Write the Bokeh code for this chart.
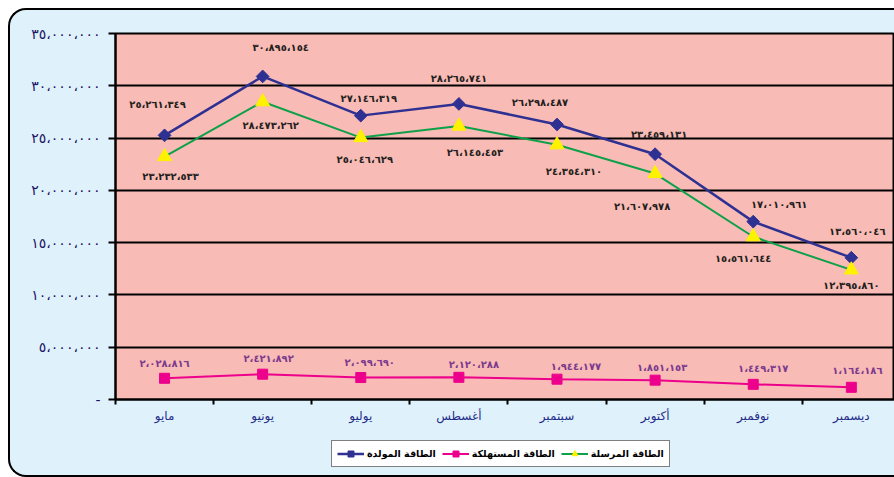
from bokeh.plotting import figure
from bokeh.layouts import column
from bokeh.models import (ColumnDataSource, Range1d, FixedTicker, Legend, LegendItem)
from bokeh.core.properties import value
from bokeh.embed import file_html
from bokeh.resources import INLINE
import math

# ---------------- data ----------------
months = ["مايو", "يونيو", "يوليو", "أغسطس", "سبتمبر", "أكتوبر", "نوفمبر", "ديسمبر"]
generated = [25261349, 30895154, 27146319, 28265741, 26298487, 23459131, 17010961, 13560046]
consumed = [2028816, 2421892, 2099690, 2120288, 1944177, 1851153, 1449317, 1164186]
sent = [23232533, 28473262, 25046629, 26145453, 24354310, 21607978, 15561644, 12395860]
series_names = ["الطاقة المولدة", "الطاقة المستهلكة", "الطاقة المرسلة"]
y_ticks = [0, 5000000, 10000000, 15000000, 20000000, 25000000, 30000000, 35000000]

AR_DIGITS = str.maketrans("0123456789,", "٠١٢٣٤٥٦٧٨٩،")


def ar(n):
    return f"{n:,}".translate(AR_DIGITS)


y_tick_labels = ["-"] + [ar(v) for v in y_ticks[1:]]

# label offsets in screen pixels (style only)
gen_dx = [-7, 18, 8, 0, -17, 4, 26, 6]
gen_dy = [-31, -29, -17, -25, -22, -20, -17, -26]
sent_dx = [6, 8, 4, 16, 17, -13, -10, 0]
sent_dy = [20, 24, 22, 26, 27, 33, 22, 16]
cons_dx = [0, 6, 9, 15, 19, 7, 10, 6]
cons_dy = [-15, -16, -15, -13, -13, -13, -16, -17]

xs = list(range(len(months)))

src = ColumnDataSource(dict(
    x=xs, gen=generated, sent=sent, cons=consumed,
    gen_lbl=[ar(v) for v in generated],
    sent_lbl=[ar(v) for v in sent],
    cons_lbl=[ar(v) for v in consumed],
    gdx=gen_dx, gdy=gen_dy, sdx=sent_dx, sdy=sent_dy, cdx=cons_dx, cdy=cons_dy,
))

BG = "#DFF1FB"
W = 884
p = figure(width=W, height=420, output_backend="svg", toolbar_location=None,
           x_range=Range1d(-0.5, 7.44), y_range=Range1d(0, 35000000),
           min_border_left=105, min_border_right=0, min_border_top=23,
           min_border_bottom=31)

p.background_fill_color = "#F9BBB5"
p.border_fill_color = BG
p.border_fill_alpha = 0
p.outline_line_color = "black"
p.outline_line_width = 2

# grid
p.xgrid.grid_line_color = None
p.ygrid.ticker = FixedTicker(ticks=y_ticks)
p.ygrid.grid_line_color = "black"
p.ygrid.grid_line_width = 2

# y axis
p.yaxis.ticker = FixedTicker(ticks=y_ticks)
p.yaxis.major_label_overrides = {v: l for v, l in zip(y_ticks, y_tick_labels)}
p.yaxis.axis_line_color = "black"
p.yaxis.axis_line_width = 2
p.yaxis.major_tick_line_width = 2
p.yaxis.major_tick_in = 0
p.yaxis.major_tick_out = 7
p.yaxis.minor_tick_line_color = None
p.yaxis.major_label_standoff = 8
p.yaxis.major_label_text_font = "DejaVu Sans"
p.yaxis.major_label_text_font_size = "14px"
p.yaxis.major_label_text_color = "#1B1464"

# x axis
p.xaxis.ticker = FixedTicker(ticks=xs, minor_ticks=[i - 0.5 for i in range(len(months) + 1)])
p.xaxis.major_label_overrides = {i: m for i, m in enumerate(months)}
p.xaxis.axis_line_color = "black"
p.xaxis.axis_line_width = 2
p.xaxis.major_tick_line_color = None
p.xaxis.major_tick_in = 0
p.xaxis.major_tick_out = 0
p.xaxis.minor_tick_line_color = "black"
p.xaxis.minor_tick_line_width = 2
p.xaxis.minor_tick_in = 0
p.xaxis.minor_tick_out = 5
p.xaxis.major_label_standoff = 4
p.xaxis.major_label_text_font = "DejaVu Sans"
p.xaxis.major_label_text_font_size = "12px"
p.xaxis.major_label_text_color = "#1F2C8A"

# series
BLUE, GREEN, PINK, YELLOW = "#2E3192", "#0FA04A", "#EC008C", "#FFF200"
STY = {
    "gen": dict(line=dict(line_color=BLUE, line_width=2.5),
                mark=dict(marker="square", angle=math.pi / 4, size=9, fill_color=BLUE, line_color=BLUE)),
    "cons": dict(line=dict(line_color=PINK, line_width=2),
                 mark=dict(marker="square", size=10, fill_color=PINK, line_color=PINK)),
    "sent": dict(line=dict(line_color=GREEN, line_width=2),
                 mark=dict(marker="triangle", size=14, fill_color=YELLOW, line_color=YELLOW)),
}
for key in ["gen", "cons", "sent"]:
    p.line("x", key, source=src, **STY[key]["line"])
    p.scatter("x", key, source=src, **STY[key]["mark"])

common = dict(text_font=value("DejaVu Sans"), text_font_size="10px", text_font_style="bold",
              text_align="center", text_baseline="middle")
p.text("x", "gen", text="gen_lbl", x_offset="gdx", y_offset="gdy", source=src,
       text_color="#231F20", **common)
p.text("x", "sent", text="sent_lbl", x_offset="sdx", y_offset="sdy", source=src,
       text_color="#231F20", **common)
p.text("x", "cons", text="cons_lbl", x_offset="cdx", y_offset="cdy", source=src,
       text_color="#7B3A8E", **common)

# ---------------- legend strip ----------------
leg = figure(width=W, height=45, output_backend="svg", toolbar_location=None,
             x_range=Range1d(-100, -99), y_range=Range1d(-100, -99),
             x_axis_type=None, y_axis_type=None,
             min_border_left=105, min_border_right=0, min_border_top=0, min_border_bottom=0)
leg.background_fill_alpha = 0
leg.border_fill_alpha = 0
leg.outline_line_color = None

items = []
for key, name in zip(["gen", "cons", "sent"], series_names):
    r1 = leg.line("x", key, source=src, **STY[key]["line"])
    r2 = leg.scatter("x", key, source=src, **STY[key]["mark"])
    items.append(LegendItem(label=name, renderers=[r1, r2]))

legend = Legend(items=items, orientation="horizontal", location=(216, 8))
legend.background_fill_color = "white"
legend.background_fill_alpha = 1
legend.border_line_color = "black"
legend.border_line_width = 1
legend.label_text_font = "DejaVu Sans"
legend.label_text_font_size = "9.5px"
legend.label_text_font_style = "bold"
legend.label_text_color = "black"
legend.glyph_width = 27
legend.glyph_height = 15
legend.label_height = 15
legend.spacing = 6
legend.padding = 5
legend.margin = 0
legend.label_standoff = 3
leg.add_layout(legend, "center")

layout = column(p, leg, spacing=0, styles={
    "margin": "8px 0 0 8px",
    "border-top": "2px solid black", "border-left": "2px solid black",
    "border-bottom": "2px solid black",
    "border-radius": "18px 0 0 18px", "overflow": "hidden",
    "background-color": BG})

open("out.html", "w").write(file_html(layout, INLINE))
